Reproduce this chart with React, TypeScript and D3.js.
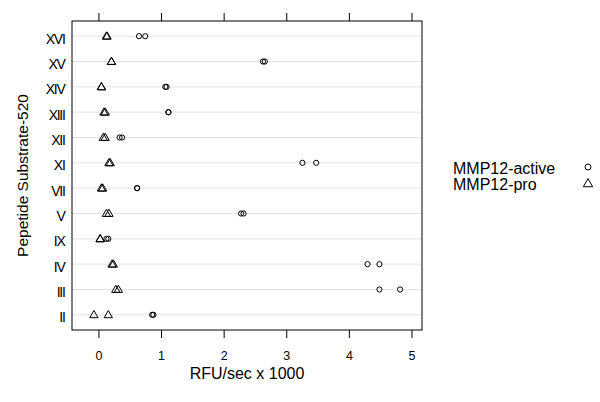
import React, { useEffect, useRef } from "react";
import * as d3 from "d3";

// rows, top to bottom
const substrates = ["XVI", "XV", "XIV", "XIII", "XII", "XI", "VII", "V", "IX", "IV", "III", "II"];
// replicate readings per substrate (RFU/sec x 1000)
const activeValues = [
  [0.64, 0.74], [2.62, 2.65], [1.06, 1.08], [1.11, 1.11], [0.33, 0.37], [3.25, 3.47],
  [0.61, 0.61], [2.27, 2.31], [0.12, 0.15], [4.29, 4.48], [4.48, 4.81], [0.85, 0.87],
];
const proValues = [
  [0.12, 0.13], [0.2, 0.2], [0.04, 0.04], [0.08, 0.1], [0.07, 0.1], [0.16, 0.18],
  [0.04, 0.06], [0.12, 0.16], [0.02, 0.02], [0.21, 0.23], [0.27, 0.31], [-0.08, 0.15],
];
const xTicks = [0, 1, 2, 3, 4, 5];
const legendLabels = ["MMP12-active", "MMP12-pro"];

const App = () => {
  const svgRef = useRef(null);

  useEffect(() => {
    const svg = d3.select(svgRef.current);
    svg.selectAll("*").remove();
    const font = "Liberation Sans, Arial, sans-serif";

    const left = 72, right = 422, top = 21, bottom = 330;
    const x = d3.scaleLinear().domain([-0.43, 5.16]).range([left, right]);
    const y = d3.scalePoint().domain(substrates).range([top, bottom]).padding(0.6);

    // grid lines
    svg
      .selectAll(".grid")
      .data(substrates)
      .enter()
      .append("line")
      .attr("x1", left)
      .attr("x2", right)
      .attr("y1", (d) => y(d))
      .attr("y2", (d) => y(d))
      .attr("stroke", "#e3e3e3")
      .attr("stroke-width", 1);

    // panel frame
    svg
      .append("rect")
      .attr("x", left)
      .attr("y", top)
      .attr("width", right - left)
      .attr("height", bottom - top)
      .attr("fill", "none")
      .attr("stroke", "#000")
      .attr("stroke-width", 1);

    // ticks top + bottom
    xTicks.forEach((t) => {
      svg.append("line").attr("x1", x(t)).attr("x2", x(t)).attr("y1", top - 8).attr("y2", top).attr("stroke", "#000");
      svg.append("line").attr("x1", x(t)).attr("x2", x(t)).attr("y1", bottom).attr("y2", bottom + 8).attr("stroke", "#000");
      svg
        .append("text")
        .attr("x", x(t))
        .attr("y", 359.5)
        .attr("text-anchor", "middle")
        .attr("font-family", font)
        .attr("font-size", 12.5)
        .text(t);
    });

    // y labels
    svg
      .selectAll(".ylab")
      .data(substrates)
      .enter()
      .append("text")
      .attr("x", 64.5)
      .attr("y", (d) => y(d) + 7.5)
      .attr("text-anchor", "end")
      .attr("font-family", font)
      .attr("font-size", 14)
      .attr("letter-spacing", -1.3)
      .text((d) => d);

    // axis titles
    svg
      .append("text")
      .attr("x", 247)
      .attr("y", 379)
      .attr("text-anchor", "middle")
      .attr("font-family", font)
      .attr("font-size", 16)
      .text("RFU/sec x 1000");
    svg
      .append("text")
      .attr("transform", `translate(28,${(top + bottom) / 2}) rotate(-90)`)
      .attr("text-anchor", "middle")
      .attr("font-family", font)
      .attr("font-size", 15.5)
      .text("Pepetide Substrate-520");

    const tri = d3.symbol().type(d3.symbolTriangle).size(30);

    // points
    substrates.forEach((s, i) => {
      activeValues[i].forEach((v) => {
        svg
          .append("circle")
          .attr("cx", x(v))
          .attr("cy", y(s))
          .attr("r", 2.6)
          .attr("fill", "none")
          .attr("stroke", "#000")
          .attr("stroke-width", 1);
      });
      proValues[i].forEach((v) => {
        svg
          .append("path")
          .attr("d", tri)
          .attr("transform", `translate(${x(v)},${y(s) + 0.5})`)
          .attr("fill", "none")
          .attr("stroke", "#000")
          .attr("stroke-width", 1);
      });
    });

    // legend
    const legY = [174, 190];
    legendLabels.forEach((l, i) => {
      svg
        .append("text")
        .attr("x", 453)
        .attr("y", legY[i])
        .attr("font-family", font)
        .attr("font-size", 16)
        .text(l);
    });
    svg
      .append("circle")
      .attr("cx", 588)
      .attr("cy", 167)
      .attr("r", 3)
      .attr("fill", "none")
      .attr("stroke", "#000");
    svg
      .append("path")
      .attr("d", d3.symbol().type(d3.symbolTriangle).size(38))
      .attr("transform", `translate(588,184)`)
      .attr("fill", "none")
      .attr("stroke", "#000");
  }, []);

  return (
    <svg
      ref={svgRef}
      width={600}
      height={402}
      style={{ position: "absolute", left: 0, top: 0, background: "#fff" }}
    />
  );
};

export default App;
